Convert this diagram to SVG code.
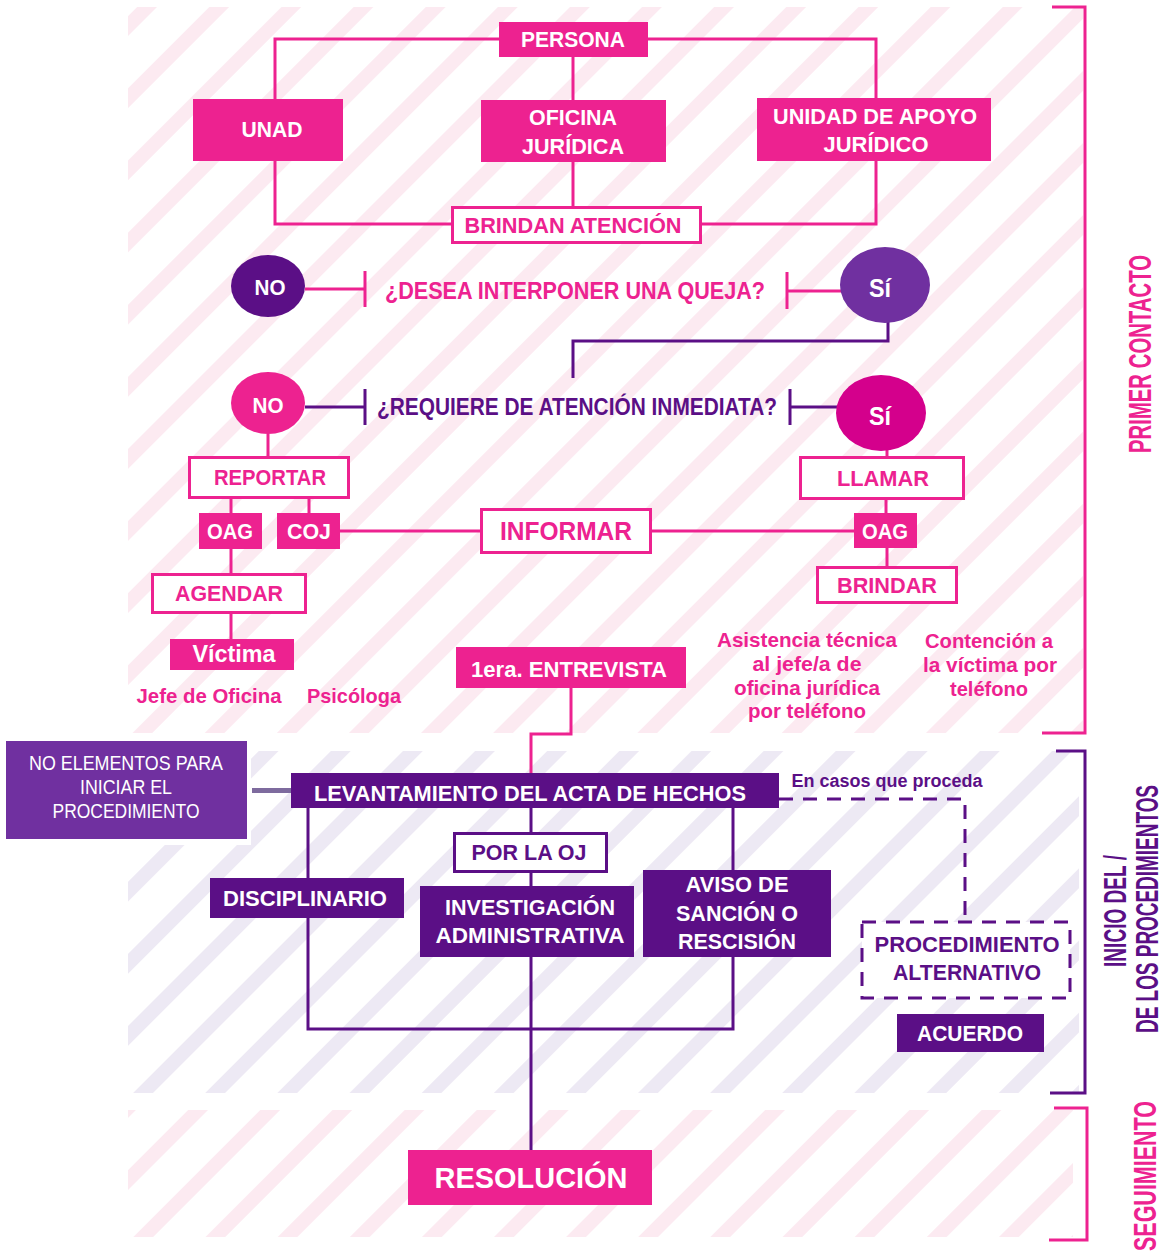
<svg xmlns="http://www.w3.org/2000/svg" width="1164" height="1253" viewBox="0 0 1164 1253">
<defs>
<pattern id="stripePink" patternUnits="userSpaceOnUse" width="51" height="51" patternTransform="rotate(45)"><rect x="0" y="0" width="14" height="51" fill="#FCEAF1"/></pattern>
<pattern id="stripePurple" patternUnits="userSpaceOnUse" width="51" height="51" patternTransform="rotate(45)"><rect x="0" y="0" width="14" height="51" fill="#EDE9F4"/></pattern>
<style>
text{font-family:"Liberation Sans",Arial,sans-serif;font-weight:bold;text-anchor:middle;}
.w{fill:#FFFFFF}
.pk{fill:#ED2290}
.pu{fill:#5B0F86}
.fp{fill:#ED2290}
.fd{fill:#5B0F86}
.fm{fill:#7030A0}
.ob{fill:#FFFFFF;stroke:#ED2290;stroke-width:3}
.obp{fill:#FFFFFF;stroke:#5B0F86;stroke-width:3}
.cp{fill:none;stroke:#ED2290;stroke-width:3}
.cd{fill:none;stroke:#5B0F86;stroke-width:3}
.dash{fill:none;stroke:#5B0F86;stroke-width:3;stroke-dasharray:14 10}
.t22{font-size:22.5px}
.t24{font-size:24px}
.t21{font-size:21px}
.side{font-size:31px}
</style>
</defs>
<rect x="0" y="0" width="1164" height="1253" fill="#FFFFFF"/>
<g id="background">
<rect x="128" y="7" width="955" height="726" fill="url(#stripePink)"/>
<rect x="128" y="751" width="951" height="342" fill="url(#stripePurple)"/>
<rect x="128" y="1110" width="945" height="127" fill="url(#stripePink)"/>
<rect x="0" y="736" width="251" height="109" fill="#FFFFFF"/>
</g>
<g id="connectors">
<path class="cp" d="M499,39 H275 V99"/>
<path class="cp" d="M648,39 H876 V99"/>
<path class="cp" d="M573,57 V100"/>
<path class="cp" d="M275,161 V224 H451"/>
<path class="cp" d="M573,162 V206"/>
<path class="cp" d="M876,161 V224 H702"/>
<path class="cp" d="M305,289 H365 M365,271 V307"/>
<path class="cp" d="M841,291 H787 M787,272 V309"/>
<path class="cd" d="M888,322 V341 H573 V378"/>
<path class="cd" d="M305,407 H365 M365,389 V425"/>
<path class="cd" d="M837,407 H790 M790,389 V425"/>
<path class="cp" d="M268,434 V456"/>
<path class="cp" d="M887,450 V456"/>
<path class="cp" d="M231,499 V513 M309,499 V513"/>
<path class="cp" d="M340,531 H480"/>
<path class="cp" d="M652,531 H854"/>
<path class="cp" d="M886,500 V513"/>
<path class="cp" d="M887,548 V566"/>
<path class="cp" d="M231,549 V573"/>
<path class="cp" d="M231,614 V639"/>
<path class="cp" d="M571,688 V734 H531 V773"/>
<rect x="252" y="788" width="40" height="5" fill="#7E6B9E"/>
<path class="cd" d="M308,808 V1029 H733 V957"/>
<path class="cd" d="M733,808 V870"/>
<path class="cd" d="M531,808 V832 M531,873 V886 M531,957 V1150"/>
<path class="dash" d="M779,799 H965 V922"/>
</g>
<g id="persona"><rect class="fp" x="499" y="22" width="149" height="35"/><text class="w t22" x="573" y="47" textLength="104" lengthAdjust="spacingAndGlyphs">PERSONA</text></g>
<g id="unad"><rect class="fp" x="193" y="99" width="150" height="62"/><text class="w t22" x="272" y="137" textLength="61" lengthAdjust="spacingAndGlyphs">UNAD</text></g>
<g id="oficina-juridica"><rect class="fp" x="481" y="100" width="185" height="62"/><text class="w t22" x="573" y="125" textLength="88" lengthAdjust="spacingAndGlyphs">OFICINA</text><text class="w t22" x="573" y="154" textLength="102" lengthAdjust="spacingAndGlyphs">JURÍDICA</text></g>
<g id="unidad-apoyo"><rect class="fp" x="757" y="98" width="234" height="63"/><text class="w t22" x="875" y="124" textLength="204" lengthAdjust="spacingAndGlyphs">UNIDAD DE APOYO</text><text class="w t22" x="876" y="152" textLength="105" lengthAdjust="spacingAndGlyphs">JURÍDICO</text></g>
<g id="brindan-atencion"><rect class="ob" x="452.5" y="207.5" width="248" height="35"/><text class="pk t22" x="573" y="233" textLength="217" lengthAdjust="spacingAndGlyphs">BRINDAN ATENCIÓN</text></g>
<g id="no-1"><ellipse cx="268" cy="286" rx="37" ry="31" class="fd"/><text class="w" style="font-size:22px" x="270" y="295" textLength="31" lengthAdjust="spacingAndGlyphs">NO</text></g>
<g id="pregunta-queja"><text class="pk t24" x="575" y="299" textLength="380" lengthAdjust="spacingAndGlyphs">¿DESEA INTERPONER UNA QUEJA?</text></g>
<g id="si-1"><ellipse cx="885" cy="285" rx="45" ry="38" class="fm"/><text class="w" style="font-size:25px" x="880" y="297" textLength="22" lengthAdjust="spacingAndGlyphs">Sí</text></g>
<g id="no-2"><ellipse cx="268" cy="403" rx="37" ry="31" class="fp"/><text class="w" style="font-size:22px" x="268" y="413" textLength="31" lengthAdjust="spacingAndGlyphs">NO</text></g>
<g id="pregunta-atencion"><text class="pu t24" x="577" y="415" textLength="400" lengthAdjust="spacingAndGlyphs">¿REQUIERE DE ATENCIÓN INMEDIATA?</text></g>
<g id="si-2"><ellipse cx="881" cy="413" rx="45" ry="38" fill="#D4008C"/><text class="w" style="font-size:25px" x="880" y="425" textLength="22" lengthAdjust="spacingAndGlyphs">Sí</text></g>
<g id="reportar"><rect class="ob" x="189.5" y="457.5" width="159" height="40"/><text class="pk t22" x="270" y="485" textLength="112" lengthAdjust="spacingAndGlyphs">REPORTAR</text></g>
<g id="oag-izq"><rect class="fp" x="199" y="513" width="63" height="36"/><text class="w t22" x="230" y="539" textLength="46" lengthAdjust="spacingAndGlyphs">OAG</text></g>
<g id="coj"><rect class="fp" x="277" y="513" width="63" height="36"/><text class="w t22" x="309" y="539" textLength="44" lengthAdjust="spacingAndGlyphs">COJ</text></g>
<g id="informar"><rect class="ob" x="481.5" y="509.5" width="169" height="43"/><text class="pk" style="font-size:25px" x="566" y="540" textLength="132" lengthAdjust="spacingAndGlyphs">INFORMAR</text></g>
<g id="agendar"><rect class="ob" x="152.5" y="574.5" width="153" height="38"/><text class="pk t22" x="229" y="601" textLength="108" lengthAdjust="spacingAndGlyphs">AGENDAR</text></g>
<g id="victima"><rect class="fp" x="170" y="639" width="124" height="31"/><text class="w" style="font-size:23px" x="234" y="662" textLength="83" lengthAdjust="spacingAndGlyphs">Víctima</text></g>
<g id="jefe-oficina"><text class="pk t21" x="209" y="703" textLength="145" lengthAdjust="spacingAndGlyphs">Jefe de Oficina</text></g>
<g id="psicologa"><text class="pk t21" x="354" y="703" textLength="94" lengthAdjust="spacingAndGlyphs">Psicóloga</text></g>
<g id="llamar"><rect class="ob" x="800.5" y="457.5" width="163" height="41"/><text class="pk t22" x="883" y="486" textLength="92" lengthAdjust="spacingAndGlyphs">LLAMAR</text></g>
<g id="oag-der"><rect class="fp" x="854" y="513" width="63" height="35"/><text class="w t22" x="885" y="539" textLength="46" lengthAdjust="spacingAndGlyphs">OAG</text></g>
<g id="brindar"><rect class="ob" x="817.5" y="567.5" width="139" height="35"/><text class="pk t22" x="887" y="593" textLength="100" lengthAdjust="spacingAndGlyphs">BRINDAR</text></g>
<g id="asistencia-tecnica"><text class="pk t21" x="807" y="647" textLength="180" lengthAdjust="spacingAndGlyphs">Asistencia técnica</text><text class="pk t21" x="807" y="671" textLength="109" lengthAdjust="spacingAndGlyphs">al jefe/a de</text><text class="pk t21" x="807" y="695" textLength="146" lengthAdjust="spacingAndGlyphs">oficina jurídica</text><text class="pk t21" x="807" y="718" textLength="118" lengthAdjust="spacingAndGlyphs">por teléfono</text></g>
<g id="contencion"><text class="pk t21" x="989" y="648" textLength="128" lengthAdjust="spacingAndGlyphs">Contención a</text><text class="pk t21" x="990" y="672" textLength="134" lengthAdjust="spacingAndGlyphs">la víctima por</text><text class="pk t21" x="989" y="696" textLength="78" lengthAdjust="spacingAndGlyphs">teléfono</text></g>
<g id="primera-entrevista"><rect class="fp" x="456" y="647" width="230" height="41"/><text class="w t22" x="569" y="677" textLength="196" lengthAdjust="spacingAndGlyphs">1era. ENTREVISTA</text></g>
<g id="no-elementos"><rect class="fm" x="6" y="741" width="241" height="98"/><text class="w" style="font-size:21px;font-weight:normal" x="126" y="770" textLength="194" lengthAdjust="spacingAndGlyphs">NO ELEMENTOS PARA</text><text class="w" style="font-size:21px;font-weight:normal" x="126" y="794" textLength="92" lengthAdjust="spacingAndGlyphs">INICIAR EL</text><text class="w" style="font-size:21px;font-weight:normal" x="126" y="818" textLength="147" lengthAdjust="spacingAndGlyphs">PROCEDIMIENTO</text></g>
<g id="levantamiento"><rect class="fd" x="291" y="773" width="488" height="35"/><text class="w t22" x="530" y="801" textLength="432" lengthAdjust="spacingAndGlyphs">LEVANTAMIENTO DEL ACTA DE HECHOS</text></g>
<g id="en-casos"><text class="pu" style="font-size:17.5px" x="887" y="787" textLength="191" lengthAdjust="spacingAndGlyphs">En casos que proceda</text></g>
<g id="disciplinario"><rect class="fd" x="210" y="878" width="194" height="40"/><text class="w t22" x="305" y="906" textLength="164" lengthAdjust="spacingAndGlyphs">DISCIPLINARIO</text></g>
<g id="por-la-oj"><rect class="obp" x="454.5" y="833.5" width="152" height="38"/><text class="pu t22" x="529" y="860" textLength="115" lengthAdjust="spacingAndGlyphs">POR LA OJ</text></g>
<g id="investigacion"><rect class="fd" x="420" y="886" width="214" height="71"/><text class="w t22" x="530" y="915" textLength="170" lengthAdjust="spacingAndGlyphs">INVESTIGACIÓN</text><text class="w t22" x="530" y="943" textLength="189" lengthAdjust="spacingAndGlyphs">ADMINISTRATIVA</text></g>
<g id="aviso-sancion"><rect class="fd" x="643" y="870" width="188" height="87"/><text class="w t22" x="737" y="892" textLength="103" lengthAdjust="spacingAndGlyphs">AVISO DE</text><text class="w t22" x="737" y="921" textLength="122" lengthAdjust="spacingAndGlyphs">SANCIÓN O</text><text class="w t22" x="737" y="949" textLength="118" lengthAdjust="spacingAndGlyphs">RESCISIÓN</text></g>
<g id="procedimiento-alternativo"><rect class="dash" x="862" y="922" width="208" height="76" style="fill:#FFFFFF"/><text class="pu t22" x="967" y="952" textLength="185" lengthAdjust="spacingAndGlyphs">PROCEDIMIENTO</text><text class="pu t22" x="967" y="980" textLength="148" lengthAdjust="spacingAndGlyphs">ALTERNATIVO</text></g>
<g id="acuerdo"><rect class="fd" x="897" y="1014" width="147" height="38"/><text class="w t22" x="970" y="1041" textLength="106" lengthAdjust="spacingAndGlyphs">ACUERDO</text></g>
<g id="resolucion"><rect class="fp" x="408" y="1150" width="244" height="55"/><text class="w" style="font-size:30px" x="531" y="1188" textLength="193" lengthAdjust="spacingAndGlyphs">RESOLUCIÓN</text></g>
<g id="seccion-primer-contacto"><path class="cp" d="M1052,7 H1085 V733 H1042"/><text class="pk side" transform="translate(1151,354) rotate(-90)" textLength="198" lengthAdjust="spacingAndGlyphs">PRIMER CONTACTO</text></g>
<g id="seccion-inicio"><path class="cd" d="M1056,751 H1085 V1093 H1050"/><text class="pu side" transform="translate(1126,911) rotate(-90)" textLength="112" lengthAdjust="spacingAndGlyphs">INICIO DEL /</text><text class="pu side" transform="translate(1158,909) rotate(-90)" textLength="248" lengthAdjust="spacingAndGlyphs">DE LOS PROCEDIMIENTOS</text></g>
<g id="seccion-seguimiento"><path class="cp" d="M1054,1108 H1087 V1240 H1049"/><text class="pk side" transform="translate(1156,1176) rotate(-90)" textLength="150" lengthAdjust="spacingAndGlyphs">SEGUIMIENTO</text></g>
</svg>
